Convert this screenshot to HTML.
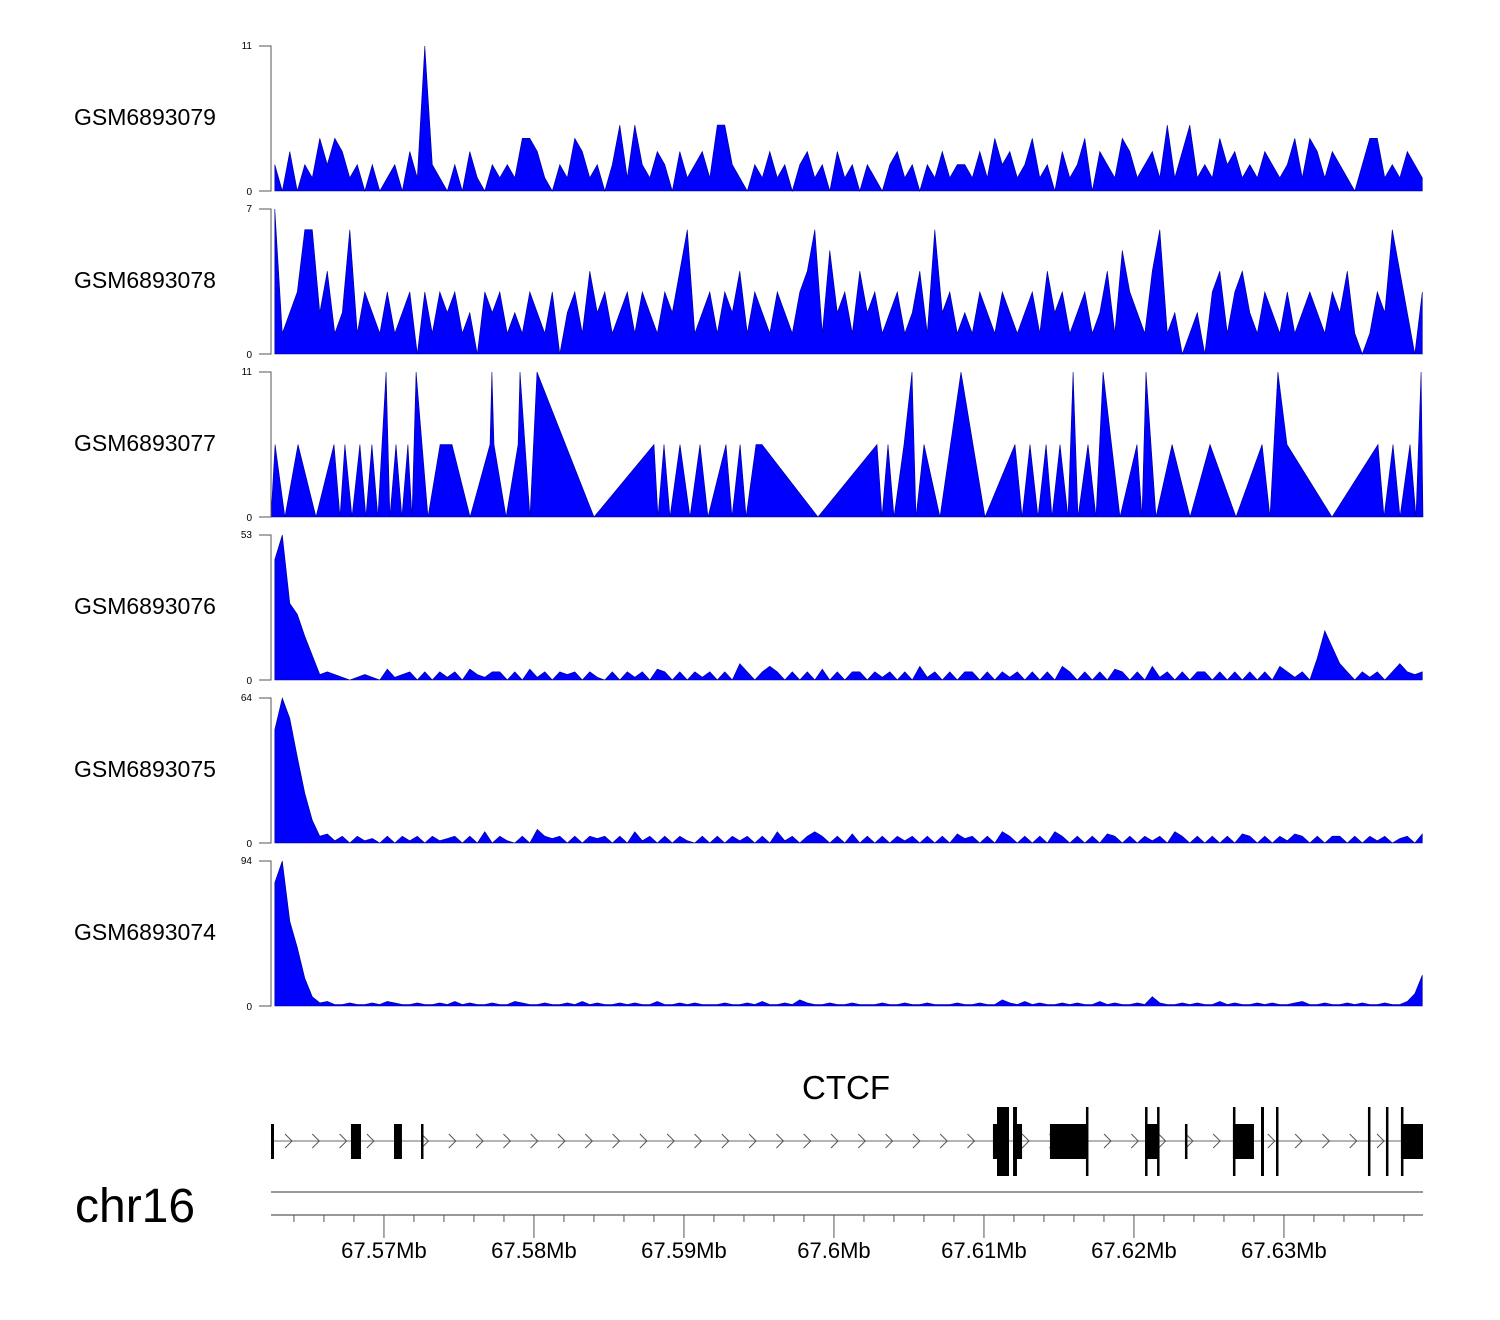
<!DOCTYPE html>
<html><head><meta charset="utf-8"><style>
html,body{margin:0;padding:0;background:#fff;}
svg{display:block;font-family:"Liberation Sans",Arial,sans-serif;}
</style></head><body>
<svg id="chart" width="1500" height="1320" viewBox="0 0 1500 1320" xmlns="http://www.w3.org/2000/svg">
<text x="846" y="1099" font-size="33" text-anchor="middle">CTCF</text>
<text x="75" y="1222" font-size="48">chr16</text>
</svg>
<script>
// genomic positions in kb offset from 67.56 Mb
const viewStart = 2.47, viewEnd = 79.27, binSize = 0.5;
const trackNames = ["GSM6893079","GSM6893078","GSM6893077","GSM6893076","GSM6893075","GSM6893074"];
const trackMax = [11,7,11,53,64,94];
const track1 = [2,0,3,0,2,1,4,2,4,3,1,2,0,2,0,1,2,0,3,1, 11,2,1,0,2,0,3,1,0,2,1,2,1,4,4,3,1,0,2,1, 4,3,1,2,0,2,5,1,5,2,1,3,2,0,3,1,2,3,1,5, 5,2,1,0,2,1,3,1,2,0,2,3,1,2,0,3,1,2,0,2, 1,0,2,3,1,2,0,2,1,3,1,2,2,1,3,1,4,2,3,1, 2,4,1,2,0,3,1,2,4,0,3,2,1,4,3,1,2,3,1,5, 1,3,5,1,2,1,4,2,3,1,2,1,3,2,1,2,4,1,4,3, 1,3,2,1,0,2,4,4,1,2,1,3,2,1];
const track2 = [7,1,2,3,6,6,2,4,1,2,6,1,3,2,1,3,1,2,3,0, 3,1,3,2,3,1,2,0,3,2,3,1,2,1,3,2,1,3,0,2, 3,1,4,2,3,1,2,3,1,3,2,1,3,2,4,6,1,2,3,1, 3,2,4,1,3,2,1,3,2,1,3,4,6,1,5,2,3,1,4,2, 3,1,2,3,1,2,4,1,6,2,3,1,2,1,3,2,1,3,2,1, 2,3,1,4,2,3,1,2,3,1,2,4,1,5,3,2,1,4,6,1, 2,0,1,2,0,3,4,1,3,4,2,1,3,2,1,3,1,2,3,2, 1,3,2,4,1,0,1,3,2,6,4,2,0,3];
const track3Pos = [2.47,2.74,3.40,4.27,5.47,6.67,7.07,7.40,7.87,8.40,8.80,9.20,9.60,10.14,10.40,10.80,11.20,11.60,11.87,12.14,12.94,13.74,14.54,15.74,17.07,17.20,17.34,18.14,18.94,19.07,19.74,20.20,24.00,28.00,28.27,28.67,29.07,29.74,30.40,31.07,31.60,32.80,33.20,33.74,34.14,34.80,35.20,38.94,42.87,43.20,43.60,44.00,44.67,45.20,45.47,46.00,47.07,48.47,50.07,52.07,52.54,53.07,53.60,54.14,54.54,55.07,55.60,55.94,56.27,56.94,57.47,57.94,59.07,60.20,60.54,60.80,61.47,62.54,63.74,65.07,66.80,68.54,69.07,69.60,70.20,73.20,76.27,76.67,77.27,77.74,78.40,78.80,79.14,79.27];
const track3Val = [0,5.5,0,5.5,0,5.5,0,5.5,0,5.5,0,5.5,0,11,0,5.5,0,5.5,0,11,0,5.5,5.5,0,5.5,11,5.5,0,5.5,11,0,11,0,5.5,0,5.5,0,5.5,0,5.5,0,5.5,0,5.5,0,5.5,5.5,0,5.5,0,5.5,0,5.5,11,0,5.5,0,11,0,5.5,0,5.5,0,5.5,0,5.5,0,11,0,5.5,0,11,0,5.5,0,11,0,5.5,0,5.5,0,5.5,0,11,5.5,0,5.5,0,5.5,0,5.5,0,11,0];
const track4 = [44,53,28,24,16,9,2,3,2,1,0,1,2,1,0,4,1,2,3,0, 3,0,3,1,3,0,4,2,1,3,3,0,3,0,4,1,3,0,3,2, 3,0,3,1,0,3,0,3,1,3,0,4,3,0,3,0,3,1,3,0, 3,0,6,3,0,3,5,3,0,3,0,3,0,4,0,3,0,3,3,0, 3,1,3,0,3,0,5,1,3,0,3,0,3,3,0,3,0,3,1,3, 0,3,0,3,0,5,3,0,3,0,3,0,4,3,0,3,0,5,1,3, 0,3,0,3,3,0,3,0,3,0,3,0,3,0,5,3,1,3,0,8, 18,12,6,3,0,3,1,3,0,3,6,3,2,3];
const track5 = [50,64,55,38,22,10,3,4,1,3,0,3,1,2,0,3,0,3,1,3, 0,3,1,2,3,0,3,0,5,0,3,1,0,3,0,6,3,2,3,0, 3,0,3,2,3,0,3,0,5,1,3,0,3,0,3,1,0,3,0,3, 0,3,1,3,0,3,0,5,1,3,0,3,5,3,0,3,0,4,0,3, 0,3,0,3,1,3,0,3,0,3,0,4,2,3,0,3,0,5,3,0, 3,0,3,0,5,3,0,3,0,3,0,4,3,0,3,0,3,1,3,0, 5,3,0,3,0,3,0,3,0,4,3,0,3,0,3,1,4,3,0,3, 0,3,3,0,3,0,3,1,3,0,2,3,0,4];
const track6 = [80,94,55,38,18,6,2,3,1,1,2,1,1,2,1,3,2,1,1,2, 1,1,2,1,3,1,2,1,1,2,1,1,3,2,1,1,2,1,1,2, 1,3,1,2,1,1,2,1,2,1,1,3,1,1,2,1,2,1,1,1, 2,1,1,2,1,3,1,1,2,1,4,2,1,1,2,1,1,2,1,1, 1,2,1,1,2,1,1,2,1,1,1,2,1,1,2,1,1,4,2,1, 3,1,2,1,1,2,1,2,1,1,3,1,2,1,1,2,1,6,2,1, 1,2,1,2,1,1,3,1,2,1,1,2,1,2,1,1,2,3,1,1, 2,1,1,2,1,2,1,1,2,1,1,3,8,20];
const exonStart = [2.47,7.80,10.67,12.47,50.60,50.87,51.94,51.94,54.40,56.80,60.74,60.74,61.54,63.40,66.60,66.60,68.47,69.47,75.60,76.80,77.80,77.80];
const exonEnd   = [2.67,8.47,11.20,12.60,51.67,51.67,52.54,52.20,56.87,56.94,61.67,60.87,61.67,63.47,68.00,66.74,68.67,69.60,75.74,76.94,77.94,79.27];
const exonTall  = [0,0,0,0,0,1,0,1,0,1,0,1,1,0,0,1,1,1,1,1,1,0];
const tickLabels = ["67.57Mb","67.58Mb","67.59Mb","67.6Mb","67.61Mb","67.62Mb","67.63Mb"];
const tickKb = [10,20,30,40,50,60,70];

const NS="http://www.w3.org/2000/svg";
const svg=document.getElementById('chart');
const X0=271,X1=1423;
function xs(kb){return X0+(kb-viewStart)/(viewEnd-viewStart)*(X1-X0);}
function mk(tag,attrs,parent){const e=document.createElementNS(NS,tag);for(const k in attrs)e.setAttribute(k,attrs[k]);(parent||svg).appendChild(e);return e;}

const tracks=[track1,track2,null,track4,track5,track6];
for(let t=0;t<6;t++){
  const top=46+t*163, bot=top+145;
  const ys=v=>bot-(v/trackMax[t])*(bot-top);
  const g=mk('g',{});
  
  
  let pts=[];
  if(tracks[t]){
    tracks[t].forEach((v,i)=>{pts.push([xs(viewStart+binSize*(i+0.5)),ys(v)]);});
  } else {
    track3Pos.forEach((p,i)=>{pts.push([xs(p),ys(track3Val[i])]);});
  }
  let d='M'+pts[0][0].toFixed(1)+','+bot+' '+pts.map(p=>'L'+p[0].toFixed(1)+','+p[1].toFixed(1)).join(' ')+' L'+pts[pts.length-1][0].toFixed(1)+','+bot+'Z';
  const area=mk('path',{d:d,fill:'#0000ff',stroke:'#00008b','stroke-width':'0.6'},g);
  
  
  const ax=mk('path',{d:`M259,${top}H271V${bot}H259`,fill:'none',stroke:'#555','stroke-width':'1'},g);
  
  
  const tmax=mk('text',{x:252,y:top+3,'font-size':'10','text-anchor':'end'},g);tmax.textContent=trackMax[t];
  
  
  const tmin=mk('text',{x:252,y:bot+4,'font-size':'10','text-anchor':'end'},g);tmin.textContent='0';
  
  
  const nm=mk('text',{x:74,y:top+79,'font-size':'23'},g);nm.textContent=trackNames[t];
  
  
}
// gene model
const gg=mk('g',{});


mk('line',{x1:X0,x2:X1,y1:1141,y2:1141,stroke:'#888','stroke-width':'1.2'},gg);
for(let x=285;x<1410;x+=27.3){mk('path',{d:`M${x.toFixed(1)},1134 L${(x+7).toFixed(1)},1141 L${x.toFixed(1)},1148`,fill:'none',stroke:'#555','stroke-width':'1'},gg);}
exonStart.forEach((s,i)=>{
  const x1=xs(s),x2=Math.max(xs(exonEnd[i]),x1+2.5);
  const r=exonTall[i]?mk('rect',{x:x1,y:1107,width:x2-x1,height:69,fill:'#000'},gg):mk('rect',{x:x1,y:1124,width:x2-x1,height:35,fill:'#000'},gg);
  
  
});
// ruler
const rg=mk('g',{});


mk('line',{x1:X0,x2:X1,y1:1192,y2:1192,stroke:'#333','stroke-width':'1'},rg);
mk('line',{x1:X0,x2:X1,y1:1215,y2:1215,stroke:'#333','stroke-width':'1'},rg);
for(let kb=4;kb<=78;kb+=2){const x=xs(kb);mk('line',{x1:x,x2:x,y1:1215,y2:(kb%10===0?1238:1222),stroke:'#555','stroke-width':'1'},rg);}
tickKb.forEach((kb,i)=>{const t=mk('text',{x:xs(kb),y:1258,'font-size':'22','text-anchor':'middle'},rg);t.textContent=tickLabels[i];
  
  });
</script>
</body></html>
